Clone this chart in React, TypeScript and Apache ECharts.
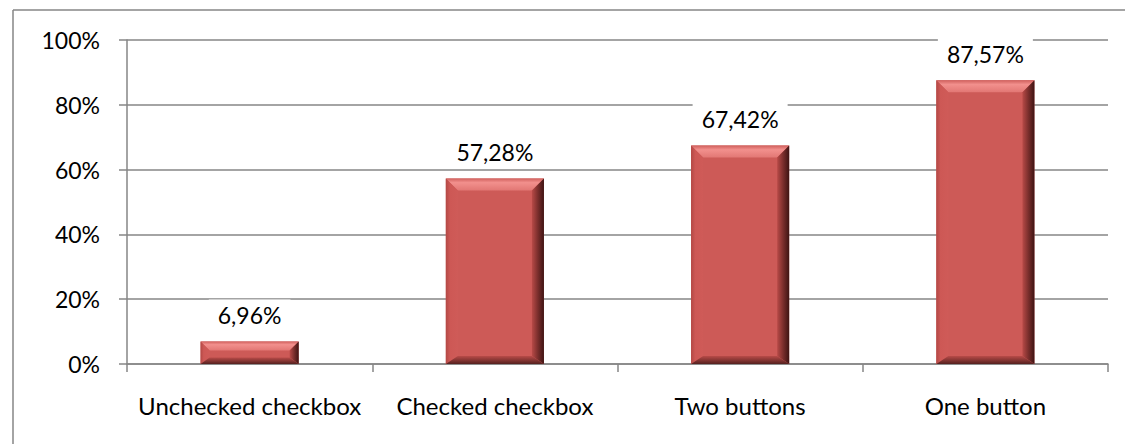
import React, { useEffect, useRef } from "react";
import * as echarts from "echarts";

const categories = ["Unchecked checkbox", "Checked checkbox", "Two buttons", "One button"];
const values = [6.96, 57.28, 67.42, 87.57];
const yTicks = [0, 20, 40, 60, 80, 100];

const FONT = "Lato";

export default function App() {
  const ref = useRef<HTMLDivElement>(null);
  useEffect(() => {
    if (!ref.current) return;
    const chart = echarts.init(ref.current, null, { renderer: "svg" });
    const option: any = {
      animation: false,
      backgroundColor: "#fff",
      graphic: [
        { type: "line", shape: { x1: 13, y1: 10, x2: 1130, y2: 10 }, style: { stroke: "#868686", lineWidth: 1.5 }, z: 10 },
        { type: "line", shape: { x1: 13, y1: 10, x2: 13, y2: 450 }, style: { stroke: "#868686", lineWidth: 1.5 }, z: 10 },
      ],
      grid: { left: 127, right: 17, top: 40, bottom: 80 },
      xAxis: {
        type: "category",
        data: categories,
        axisLine: { lineStyle: { color: "#868686", width: 1.5 } },
        axisTick: { show: true, length: 8, lineStyle: { color: "#868686", width: 1.5 } },
        axisLabel: { color: "#000", fontFamily: FONT, fontSize: 24, margin: 29, interval: 0 },
      },
      yAxis: {
        type: "value",
        min: 0,
        max: 100,
        interval: 20,
        axisLine: { show: true, lineStyle: { color: "#868686", width: 1.5 } },
        axisTick: { show: true, length: 8, lineStyle: { color: "#868686", width: 1.5 } },
        splitLine: { lineStyle: { color: "#868686", width: 1.5 } },
        axisLabel: {
          color: "#000",
          fontFamily: FONT,
          fontSize: 23,
          margin: 27,
          formatter: (v: number) => (yTicks.includes(v) ? v + "%" : ""),
        },
      },
      series: [
        {
          type: "bar",
          data: values,
          barWidth: "40%",
          itemStyle: { color: "#CD5A57" },
          label: {
            show: true,
            position: "top",
            distance: 11,
            color: "#000",
            fontFamily: FONT,
            fontSize: 23,
            lineHeight: 23,
            backgroundColor: "#fff",
            padding: [4, 9],
            formatter: (p: any) => p.value.toFixed(2).replace(".", ",") + "%",
          },
          z: 2,
        },
        {
          type: "custom",
          data: values.map((v, i) => [i, v]),
          z: 3,
          silent: true,
          renderItem: (params: any, api: any) => {
            const idx = api.value(0);
            const val = api.value(1);
            const top = api.coord([idx, val]);
            const bot = api.coord([idx, 0]);
            const w = api.size([1, 0])[0] * 0.4;
            const x0 = top[0] - w / 2;
            const x1 = top[0] + w / 2;
            const y0 = top[1];
            const y1 = bot[1];
            const h = y1 - y0;
            const b = Math.min(12, h / 2.5, w / 4);
            const bb = Math.min(8, h / 3.5);
            const topPoly = [[x0, y0], [x1, y0], [x1 - b, y0 + b], [x0 + b, y0 + b]];
            const leftPoly = [[x0, y0], [x0 + b, y0 + b], [x0 + b, y1 - bb], [x0, y1]];
            const rightPoly = [[x1, y0], [x1, y1], [x1 - b, y1 - bb], [x1 - b, y0 + b]];
            const botPoly = [[x0, y1], [x0 + b, y1 - bb], [x1 - b, y1 - bb], [x1, y1]];
            return {
              type: "group",
              children: [
                {
                  type: "polygon",
                  shape: { points: topPoly },
                  style: {
                    fill: new echarts.graphic.LinearGradient(0, 0, 0, 1, [
                      { offset: 0, color: "#D0605D" },
                      { offset: 0.35, color: "#F2908D" },
                      { offset: 1, color: "#E27774" },
                    ]),
                  },
                },
                {
                  type: "polygon",
                  shape: { points: leftPoly },
                  style: {
                    fill: new echarts.graphic.LinearGradient(0, 0, 1, 0, [
                      { offset: 0, color: "#B34845" },
                      { offset: 0.35, color: "#CD5855" },
                      { offset: 1, color: "#CF5B58" },
                    ]),
                  },
                },
                {
                  type: "polygon",
                  shape: { points: rightPoly },
                  style: {
                    fill: new echarts.graphic.LinearGradient(0, 0, 1, 0, [
                      { offset: 0, color: "#B84A47" },
                      { offset: 0.5, color: "#7A2E2C" },
                      { offset: 1, color: "#3E1413" },
                    ]),
                  },
                },
                {
                  type: "polygon",
                  shape: { points: botPoly },
                  style: {
                    fill: new echarts.graphic.LinearGradient(0, 0, 0, 1, [
                      { offset: 0, color: "#B84B48" },
                      { offset: 0.6, color: "#7E3230" },
                      { offset: 1, color: "#55201F" },
                    ]),
                  },
                },
              ],
            };
          },
        },
      ],
    };
    chart.setOption(option);
    return () => chart.dispose();
  }, []);
  return (
    <div
      ref={ref}
      style={{ position: "fixed", left: 0, top: 0, width: 1125, height: 444, background: "#fff" }}
    />
  );
}
